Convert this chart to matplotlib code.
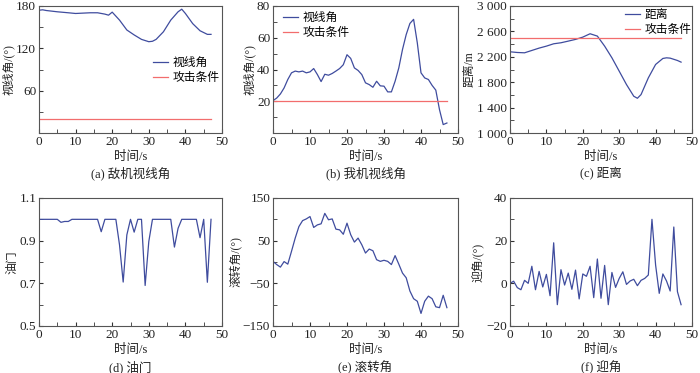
import numpy as np
import matplotlib
matplotlib.use("Agg")
import matplotlib.pyplot as plt
from matplotlib.ticker import MultipleLocator

plt.rcParams['font.family'] = ['Liberation Serif', 'Noto Sans CJK SC']
plt.rcParams['font.size'] = 9.5
plt.rcParams['axes.unicode_minus'] = True

# ----------------------------------------
# data (time in s)
t = list(range(48))

# (a) enemy line-of-sight angle, sampled at irregular times
t_a = [0, 1, 2, 5, 8, 10, 12, 14, 16, 18, 19, 20, 22, 24, 26, 28, 30, 31, 32, 34, 36, 38, 39, 40, 42, 44, 46, 47]
los_enemy = [174, 174.6, 173.6, 171.8, 170.4, 169.4, 169.9, 170.4, 170.4, 168.5, 167, 171.3, 160, 146, 139,
             132.7, 129.4, 130, 132.7, 143.5, 160, 171.8, 175.5, 169.4, 155, 144.9, 139.8, 139.8]
attack_a = 20

# (b) own line-of-sight angle
los_own = [20.4, 22, 24.6, 28.4, 33.7, 37.9, 39, 38.5, 39, 37.9, 38.5, 40.6, 36.8, 32.4, 37, 36.4,
           37.5, 39, 40.6, 43, 49.3, 47, 41, 39.4, 36.8, 31.6, 30.5, 28.8, 32.6, 29.7, 29.5, 25.9,
           25.9, 32.6, 41, 52.6, 62, 69, 71.6, 56.8, 37.9, 34.7, 33.7, 30, 27, 14.7, 5.3, 6.3]
attack_b = 20

# (c) distance
t_c = [0, 2, 4, 6, 8, 10, 12, 14, 16, 18, 20, 22, 24, 26, 28, 30, 32, 34, 35, 36, 38, 40, 42, 43, 44, 46, 47]
distance = [2279, 2268, 2263, 2300, 2337, 2368, 2405, 2421, 2447, 2474, 2510, 2563, 2526, 2368, 2184,
            1974, 1763, 1579, 1547, 1605, 1868, 2079, 2174, 2184, 2179, 2142, 2116]
attack_c = 2500

# (d) throttle
throttle = [1, 1, 1, 1, 1, 1, 0.986, 0.99, 0.99, 1, 1, 1, 1, 1, 1, 1, 1, 0.942, 1, 1, 1, 1,
            0.88, 0.706, 0.927, 1, 0.94, 1, 1, 0.69, 0.896, 1, 1, 1, 1, 1, 1, 0.87, 0.958, 1,
            1, 1, 1, 1, 0.914, 1, 0.705, 1]

# (e) roll angle
roll = [1.5, -6, -12, 1, -5, 25, 56, 83, 97, 101, 106.5, 81, 87, 89.5, 114, 99, 101, 77, 75.4, 65,
        91, 64, 46.7, 56, 40.4, 21, 30.3, 26.4, 5.4, 1.5, 4, 1.5, -6, 15, -5, -26, -37, -68, -86,
        -92, -120.5, -92, -80, -86, -105, -107, -78, -107]

# (f) angle of attack
aoa = [0, 1, -2, -3, 1.4, 0, 8, -3, 5.6, -1.7, 4.2, -5.8, 19, -10, 6.4, -0.8, 4.8, -2.8, 6.2, -7.3,
       4.4, 3.3, 8, -6.7, 11.4, -7, 8.4, -10, 5.1, -1.9, 2.3, 5.4, -0.5, 1.1, 1.9, -1.1, 1.4, 2.3,
       3.9, 30, 8.6, -4.7, 4.4, 1.1, -3.6, 26.4, -3.9, -10]

blue = '#3f4c9e'
red = '#f26d6d'
lw = 0.9
fs = 9.5      # latin tick labels
fs_cn = 8.5   # chinese labels / legend
txt = '#222222'

fig = plt.figure(figsize=(7, 3.73), dpi=100)

W, H = 700, 373
cols = [(39, 183), (273, 185), (510, 182)]
rows = [(6, 127), (198, 128)]


def make_ax(r, c):
    left, w = cols[c]
    top, h = rows[r]
    ax = fig.add_axes([left / W, 1 - (top + h) / H, w / W, h / H])
    ax.set_xlim(0, 50)
    ax.xaxis.set_major_locator(MultipleLocator(10))
    ax.xaxis.set_minor_locator(MultipleLocator(5))
    ax.tick_params(which='both', direction='in', top=False, right=False, colors='#333333',
                   labelcolor=txt, labelsize=fs, pad=2)
    ax.tick_params(which='major', length=3)
    ax.tick_params(which='minor', length=3)
    for s in ax.spines.values():
        s.set_color('#555555')
        s.set_linewidth(0.8)
    ax.set_xlabel('时间/s', fontsize=fs_cn + 0.5, labelpad=2, color=txt)
    return ax


def caption(r, c, text):
    left, w = cols[c]
    y = [173, 367][r]
    fig.text((left + w / 2) / W, 1 - y / H, text, ha='center', va='center', fontsize=fs_cn + 0.5,
             color=txt)


leg_kw = dict(frameon=False, fontsize=fs_cn, handlelength=1.3, handletextpad=0.35, labelspacing=0.25,
              borderaxespad=0, borderpad=0, loc='upper left')

# ----------------------------------------
# (a)
ax = make_ax(0, 0)
ax.plot(t_a, los_enemy, color=blue, lw=lw, label='视线角')
ax.plot([t[0], t[-1]], [attack_a, attack_a], color=red, lw=lw, label='攻击条件')
ax.set_ylim(0, 180)
ax.set_yticks([60, 120, 180])
ax.yaxis.set_minor_locator(MultipleLocator(30))
ax.set_ylabel('视线角/(°)', fontsize=fs_cn, labelpad=1, color=txt)
ax.legend(bbox_to_anchor=(0.623, 0.60), **leg_kw)
caption(0, 0, '(a) 敌机视线角')

# (b)
ax = make_ax(0, 1)
ax.plot(t, los_own, color=blue, lw=lw, label='视线角')
ax.plot([t[0], t[-1]], [attack_b, attack_b], color=red, lw=lw, label='攻击条件')
ax.set_ylim(0, 80)
ax.set_yticks([20, 40, 60, 80])
ax.yaxis.set_minor_locator(MultipleLocator(10))
ax.set_ylabel('视线角/(°)', fontsize=fs_cn, labelpad=1, color=txt)
ax.legend(bbox_to_anchor=(0.054, 0.95), **leg_kw)
caption(0, 1, '(b) 我机视线角')

# (c)
ax = make_ax(0, 2)
ax.plot(t_c, distance, color=blue, lw=lw, label='距离')
ax.plot([t[0], t[-1]], [attack_c, attack_c], color=red, lw=lw, label='攻击条件')
ax.set_ylim(1000, 3000)
yt = [1000, 1400, 1800, 2200, 2600, 3000]
ax.set_yticks(yt)
ax.set_yticklabels([f'{v:,}'.replace(',', ' ') for v in yt])
ax.yaxis.set_minor_locator(MultipleLocator(200))
ax.set_ylabel('距离/m', fontsize=fs_cn, labelpad=1, color=txt)
ax.legend(bbox_to_anchor=(0.632, 0.975), **leg_kw)
caption(0, 2, '(c) 距离')

# (d)
ax = make_ax(1, 0)
ax.plot(t, throttle, color=blue, lw=lw)
ax.set_ylim(0.5, 1.1)
ax.set_yticks([0.5, 0.7, 0.9, 1.1])
ax.yaxis.set_minor_locator(MultipleLocator(0.1))
ax.set_ylabel('油门', fontsize=fs_cn, labelpad=1, color=txt)
caption(1, 0, '(d) 油门')

# (e)
ax = make_ax(1, 1)
ax.plot(t, roll, color=blue, lw=lw)
ax.set_ylim(-150, 150)
ax.set_yticks([-150, -50, 50, 150])
ax.yaxis.set_minor_locator(MultipleLocator(50))
ax.set_ylabel('滚转角/(°)', fontsize=fs_cn, labelpad=1, color=txt)
caption(1, 1, '(e) 滚转角')

# (f)
ax = make_ax(1, 2)
ax.plot(t, aoa, color=blue, lw=lw)
ax.set_ylim(-20, 40)
ax.set_yticks([-20, 0, 20, 40])
ax.yaxis.set_minor_locator(MultipleLocator(10))
ax.set_ylabel('迎角/(°)', fontsize=fs_cn, labelpad=1, color=txt)
caption(1, 2, '(f) 迎角')

fig.savefig('out.png', dpi=100)
